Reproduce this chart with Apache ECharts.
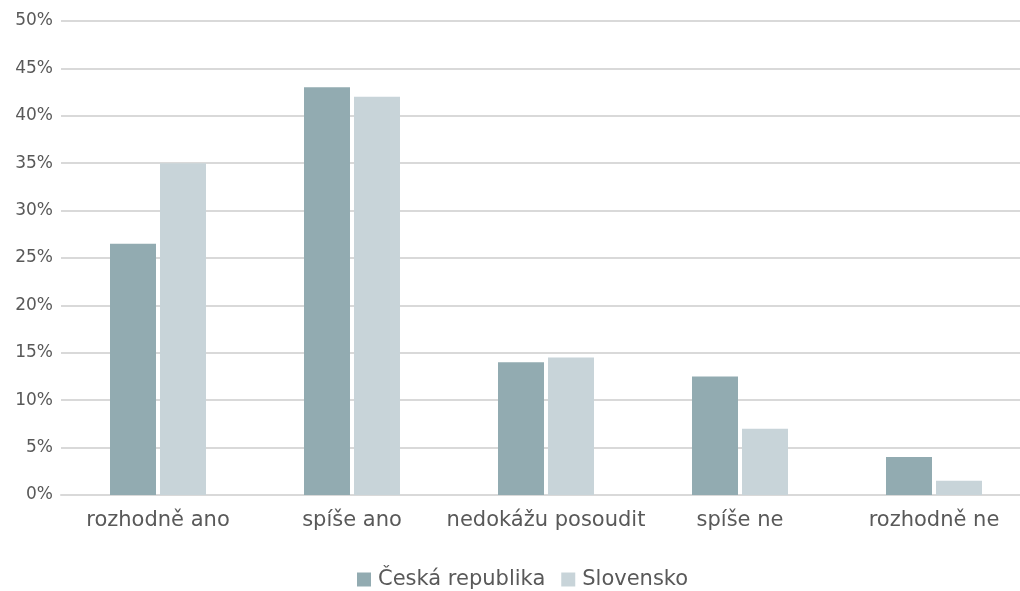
<!DOCTYPE html>
<html><head><meta charset="utf-8">
<script src="https://cdn.jsdelivr.net/npm/echarts@6/dist/echarts.min.js"></script>
<style>html,body{margin:0;padding:0;background:#fff;overflow:hidden}#c{width:1031px;height:591px}</style>
</head><body><div id="c"></div>
<script>
const categories = ['rozhodně ano', 'spíše ano', 'nedokážu posoudit', 'spíše ne', 'rozhodně ne'];
const czech = [26.5, 43, 14, 12.5, 4];
const slovak = [35, 42, 14.5, 7, 1.5];
const seriesNames = ['Česká republika', 'Slovensko'];

const chart = echarts.init(document.getElementById('c'), null, {renderer: 'canvas'});
const font = 'DejaVu Sans';
chart.setOption({
  animation: false,
  grid: {left: 61, top: 21, right: 0, height: 474, containLabel: false},
  legend: {
    data: seriesNames, top: 564, left: 352,
    itemWidth: 14, itemHeight: 14, itemGap: 16, icon: 'rect',
    textStyle: {fontFamily: font, fontSize: 21, color: '#595959', padding: [0, 0, 0, 2]}
  },
  xAxis: {
    type: 'category', data: categories,
    axisLine: {show: true, lineStyle: {color: '#d9d9d9', width: 2}},
    axisTick: {show: false},
    axisLabel: {fontFamily: font, fontSize: 21, color: '#595959', margin: 15, interval: 0}
  },
  yAxis: {
    type: 'value', min: 0, max: 50, interval: 5,
    axisLine: {show: false}, axisTick: {show: false},
    splitLine: {lineStyle: {color: '#d9d9d9', width: 2}},
    axisLabel: {fontFamily: font, fontSize: 17, color: '#595959', formatter: '{value}%', margin: 8}
  },
  series: [
    {name: seriesNames[0], type: 'bar', data: czech, barWidth: 46, barGap: '8.7%', itemStyle: {color: '#92abb1'}},
    {name: seriesNames[1], type: 'bar', data: slovak, barWidth: 46, itemStyle: {color: '#c8d4d9'}}
  ]
});
</script></body></html>
